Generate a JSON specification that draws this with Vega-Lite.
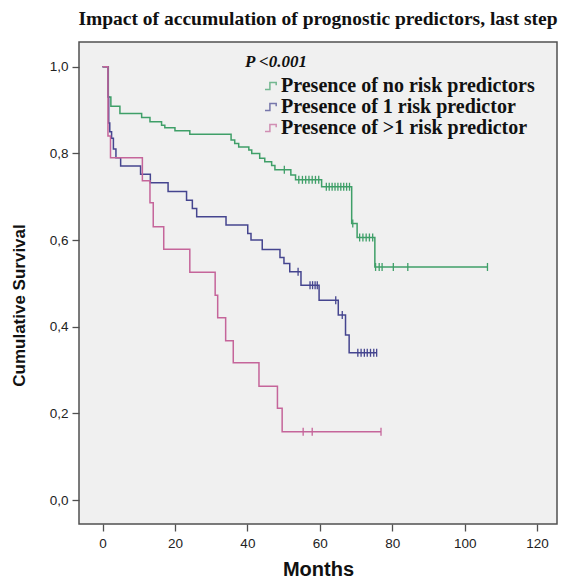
{
  "$schema": "https://vega.github.io/schema/vega-lite/v6.json",
  "width": 478,
  "height": 482,
  "autosize": {"type": "none"},
  "padding": {"left": 79, "top": 42, "right": 6, "bottom": 55},
  "background": "white",
  "title": {"text": "Impact of accumulation of prognostic predictors, last step", "font": "Liberation Serif", "fontSize": 19.5, "fontWeight": "bold", "color": "#111", "anchor": "middle", "offset": 13},
  "config": {
    "view": {"fill": "#f0f0f0", "stroke": "#505050", "strokeWidth": 1.5},
    "axis": {"domain": false, "grid": false, "ticks": true, "tickColor": "#505050", "tickWidth": 1.3, "tickSize": 7, "labelFont": "Liberation Sans", "labelFontSize": 13.5, "labelColor": "#222", "titleFont": "Liberation Sans", "titleFontSize": 17, "titleFontWeight": "bold", "titleColor": "#111"}
  },
  "datasets": {
    "steps": [
      {"g": "Presence of no risk predictors", "t": 0, "s": 1.0},
      {"g": "Presence of no risk predictors", "t": 1.6, "s": 0.93},
      {"g": "Presence of no risk predictors", "t": 2.3, "s": 0.909},
      {"g": "Presence of no risk predictors", "t": 4.8, "s": 0.892},
      {"g": "Presence of no risk predictors", "t": 10.8, "s": 0.883},
      {"g": "Presence of no risk predictors", "t": 13.1, "s": 0.873},
      {"g": "Presence of no risk predictors", "t": 16.3, "s": 0.865},
      {"g": "Presence of no risk predictors", "t": 17.2, "s": 0.859},
      {"g": "Presence of no risk predictors", "t": 20.0, "s": 0.852},
      {"g": "Presence of no risk predictors", "t": 24.1, "s": 0.844},
      {"g": "Presence of no risk predictors", "t": 35.5, "s": 0.831},
      {"g": "Presence of no risk predictors", "t": 36.5, "s": 0.823},
      {"g": "Presence of no risk predictors", "t": 37.6, "s": 0.815},
      {"g": "Presence of no risk predictors", "t": 40.4, "s": 0.808},
      {"g": "Presence of no risk predictors", "t": 41.2, "s": 0.8},
      {"g": "Presence of no risk predictors", "t": 43.4, "s": 0.789},
      {"g": "Presence of no risk predictors", "t": 44.8, "s": 0.781},
      {"g": "Presence of no risk predictors", "t": 46.7, "s": 0.772},
      {"g": "Presence of no risk predictors", "t": 47.6, "s": 0.762},
      {"g": "Presence of no risk predictors", "t": 52.0, "s": 0.75},
      {"g": "Presence of no risk predictors", "t": 53.3, "s": 0.739},
      {"g": "Presence of no risk predictors", "t": 60.5, "s": 0.723},
      {"g": "Presence of no risk predictors", "t": 68.8, "s": 0.638},
      {"g": "Presence of no risk predictors", "t": 70.3, "s": 0.606},
      {"g": "Presence of no risk predictors", "t": 75.2, "s": 0.538},
      {"g": "Presence of no risk predictors", "t": 106.3, "s": 0.538},
      {"g": "Presence of 1 risk predictor", "t": 0, "s": 1.0},
      {"g": "Presence of 1 risk predictor", "t": 1.5, "s": 0.93},
      {"g": "Presence of 1 risk predictor", "t": 1.7, "s": 0.87},
      {"g": "Presence of 1 risk predictor", "t": 2.0, "s": 0.85},
      {"g": "Presence of 1 risk predictor", "t": 2.5, "s": 0.835},
      {"g": "Presence of 1 risk predictor", "t": 3.0, "s": 0.81},
      {"g": "Presence of 1 risk predictor", "t": 3.7, "s": 0.79},
      {"g": "Presence of 1 risk predictor", "t": 5.0, "s": 0.771},
      {"g": "Presence of 1 risk predictor", "t": 10.5, "s": 0.752},
      {"g": "Presence of 1 risk predictor", "t": 13.2, "s": 0.732},
      {"g": "Presence of 1 risk predictor", "t": 18.1, "s": 0.712},
      {"g": "Presence of 1 risk predictor", "t": 23.2, "s": 0.692},
      {"g": "Presence of 1 risk predictor", "t": 24.8, "s": 0.673},
      {"g": "Presence of 1 risk predictor", "t": 26.0, "s": 0.654},
      {"g": "Presence of 1 risk predictor", "t": 34.1, "s": 0.635},
      {"g": "Presence of 1 risk predictor", "t": 40.1, "s": 0.615},
      {"g": "Presence of 1 risk predictor", "t": 41.0, "s": 0.6},
      {"g": "Presence of 1 risk predictor", "t": 44.1, "s": 0.578},
      {"g": "Presence of 1 risk predictor", "t": 49.0, "s": 0.56},
      {"g": "Presence of 1 risk predictor", "t": 50.1, "s": 0.546},
      {"g": "Presence of 1 risk predictor", "t": 51.7, "s": 0.527},
      {"g": "Presence of 1 risk predictor", "t": 54.8, "s": 0.496},
      {"g": "Presence of 1 risk predictor", "t": 59.8, "s": 0.461},
      {"g": "Presence of 1 risk predictor", "t": 65.1, "s": 0.427},
      {"g": "Presence of 1 risk predictor", "t": 67.1, "s": 0.381},
      {"g": "Presence of 1 risk predictor", "t": 68.1, "s": 0.34},
      {"g": "Presence of 1 risk predictor", "t": 75.7, "s": 0.34},
      {"g": "Presence of >1 risk predictor", "t": 0, "s": 1.0},
      {"g": "Presence of >1 risk predictor", "t": 1.5, "s": 0.84},
      {"g": "Presence of >1 risk predictor", "t": 2.2, "s": 0.79},
      {"g": "Presence of >1 risk predictor", "t": 11.0, "s": 0.737},
      {"g": "Presence of >1 risk predictor", "t": 13.1, "s": 0.686},
      {"g": "Presence of >1 risk predictor", "t": 14.0, "s": 0.631},
      {"g": "Presence of >1 risk predictor", "t": 16.9, "s": 0.579},
      {"g": "Presence of >1 risk predictor", "t": 24.1, "s": 0.526},
      {"g": "Presence of >1 risk predictor", "t": 31.1, "s": 0.473},
      {"g": "Presence of >1 risk predictor", "t": 31.8, "s": 0.421},
      {"g": "Presence of >1 risk predictor", "t": 34.0, "s": 0.368},
      {"g": "Presence of >1 risk predictor", "t": 36.1, "s": 0.317},
      {"g": "Presence of >1 risk predictor", "t": 43.2, "s": 0.263},
      {"g": "Presence of >1 risk predictor", "t": 48.3, "s": 0.212},
      {"g": "Presence of >1 risk predictor", "t": 49.6, "s": 0.158},
      {"g": "Presence of >1 risk predictor", "t": 76.9, "s": 0.158}
    ],
    "cens": [
      {"g": "Presence of no risk predictors", "t": 50.2, "s": 0.762},
      {"g": "Presence of no risk predictors", "t": 54.2, "s": 0.739},
      {"g": "Presence of no risk predictors", "t": 55.2, "s": 0.739},
      {"g": "Presence of no risk predictors", "t": 56.1, "s": 0.739},
      {"g": "Presence of no risk predictors", "t": 57.0, "s": 0.739},
      {"g": "Presence of no risk predictors", "t": 57.9, "s": 0.739},
      {"g": "Presence of no risk predictors", "t": 58.8, "s": 0.739},
      {"g": "Presence of no risk predictors", "t": 59.7, "s": 0.739},
      {"g": "Presence of no risk predictors", "t": 61.8, "s": 0.723},
      {"g": "Presence of no risk predictors", "t": 62.6, "s": 0.723},
      {"g": "Presence of no risk predictors", "t": 63.4, "s": 0.723},
      {"g": "Presence of no risk predictors", "t": 64.2, "s": 0.723},
      {"g": "Presence of no risk predictors", "t": 65.0, "s": 0.723},
      {"g": "Presence of no risk predictors", "t": 65.8, "s": 0.723},
      {"g": "Presence of no risk predictors", "t": 66.6, "s": 0.723},
      {"g": "Presence of no risk predictors", "t": 67.4, "s": 0.723},
      {"g": "Presence of no risk predictors", "t": 68.2, "s": 0.723},
      {"g": "Presence of no risk predictors", "t": 69.1, "s": 0.638},
      {"g": "Presence of no risk predictors", "t": 71.0, "s": 0.606},
      {"g": "Presence of no risk predictors", "t": 71.9, "s": 0.606},
      {"g": "Presence of no risk predictors", "t": 72.8, "s": 0.606},
      {"g": "Presence of no risk predictors", "t": 73.7, "s": 0.606},
      {"g": "Presence of no risk predictors", "t": 74.6, "s": 0.606},
      {"g": "Presence of no risk predictors", "t": 75.4, "s": 0.538},
      {"g": "Presence of no risk predictors", "t": 76.4, "s": 0.538},
      {"g": "Presence of no risk predictors", "t": 77.2, "s": 0.538},
      {"g": "Presence of no risk predictors", "t": 80.3, "s": 0.538},
      {"g": "Presence of no risk predictors", "t": 84.3, "s": 0.538},
      {"g": "Presence of no risk predictors", "t": 106.3, "s": 0.538},
      {"g": "Presence of 1 risk predictor", "t": 54.0, "s": 0.527},
      {"g": "Presence of 1 risk predictor", "t": 57.3, "s": 0.496},
      {"g": "Presence of 1 risk predictor", "t": 58.0, "s": 0.496},
      {"g": "Presence of 1 risk predictor", "t": 58.7, "s": 0.496},
      {"g": "Presence of 1 risk predictor", "t": 59.3, "s": 0.496},
      {"g": "Presence of 1 risk predictor", "t": 64.4, "s": 0.461},
      {"g": "Presence of 1 risk predictor", "t": 66.2, "s": 0.427},
      {"g": "Presence of 1 risk predictor", "t": 70.5, "s": 0.34},
      {"g": "Presence of 1 risk predictor", "t": 71.4, "s": 0.34},
      {"g": "Presence of 1 risk predictor", "t": 72.3, "s": 0.34},
      {"g": "Presence of 1 risk predictor", "t": 73.1, "s": 0.34},
      {"g": "Presence of 1 risk predictor", "t": 74.0, "s": 0.34},
      {"g": "Presence of 1 risk predictor", "t": 74.9, "s": 0.34},
      {"g": "Presence of 1 risk predictor", "t": 75.7, "s": 0.34},
      {"g": "Presence of >1 risk predictor", "t": 55.4, "s": 0.158},
      {"g": "Presence of >1 risk predictor", "t": 57.9, "s": 0.158},
      {"g": "Presence of >1 risk predictor", "t": 76.9, "s": 0.158}
    ]
  },
  "encoding": {
    "x": {"field": "t", "type": "quantitative", "scale": {"domain": [-6.5, 125.5], "nice": false, "zero": false}, "axis": {"values": [0, 20, 40, 60, 80, 100, 120], "title": "Months", "titleFontSize": 20, "titlePadding": 10, "labelPadding": 5}},
    "y": {"field": "s", "type": "quantitative", "scale": {"domain": [-0.055, 1.057], "nice": false, "zero": false}, "axis": {"values": [0, 0.2, 0.4, 0.6, 0.8, 1.0], "labelExpr": "replace(format(datum.value, '.1f'), '.', ',')", "title": "Cumulative Survival", "titlePadding": 21, "titleY": 263, "labelPadding": 4}},
    "color": {"field": "g", "type": "nominal", "scale": {"domain": ["Presence of no risk predictors", "Presence of 1 risk predictor", "Presence of >1 risk predictor"], "range": ["#3f9f68", "#45458f", "#c5659a"]}}
  },
  "layer": [
    {
      "data": {"name": "steps"},
      "mark": {"type": "line", "interpolate": "step-after", "strokeWidth": 1.5},
      "encoding": {
        "color": {"field": "g", "type": "nominal", "scale": {"domain": ["Presence of no risk predictors", "Presence of 1 risk predictor", "Presence of >1 risk predictor"], "range": ["#3f9f68", "#45458f", "#c5659a"]},
          "legend": {"title": "P <0.001", "orient": "none", "legendX": 166, "legendY": 12, "titleFont": "Liberation Serif", "titleFontSize": 17, "titleFontWeight": "bold", "titleFontStyle": "italic", "titleColor": "#111", "titlePadding": 5, "labelFont": "Liberation Serif", "labelFontSize": 20, "labelFontWeight": "bold", "labelColor": "#111", "labelLimit": 400, "symbolType": "M-1,0.5H-0.3V-0.5H0.6V-0.1", "symbolSize": 196, "symbolStrokeWidth": 1.5, "symbolOpacity": 0.7, "symbolFillColor": "transparent", "symbolOffset": 17, "rowPadding": 1, "labelOffset": -1}}
      }
    },
    {
      "data": {"name": "cens"},
      "mark": {"type": "point", "shape": "M0,-1V1", "size": 64, "filled": false, "strokeWidth": 1.3, "opacity": 1},
      "encoding": {"color": {"field": "g", "type": "nominal", "legend": null}}
    }
  ],
  "resolve": {"legend": {"color": "independent"}}
}
